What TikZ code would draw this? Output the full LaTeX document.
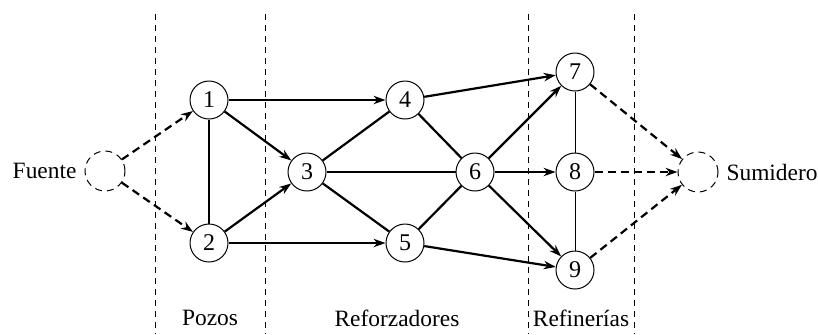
\documentclass[tikz,border=0pt]{standalone}
\usepackage{fontspec}
\setmainfont{Liberation Serif}
\usepackage{tikz}
\usetikzlibrary{arrows.meta}

\begin{document}
\begin{tikzpicture}[x=0.5pt,y=-0.5pt,>={Stealth[length=6pt,width=4.2pt]},
  nodo/.style={circle,draw,line width=0.5pt,minimum size=19pt,inner sep=0pt,font=\fontsize{12}{14}\selectfont},
  ficticio/.style={circle,draw,line width=0.5pt,dash pattern=on 3.5pt off 2.5pt,minimum size=20pt,inner sep=0pt},
  arco/.style={line width=1.1pt},
  falso/.style={line width=1.1pt,dash pattern=on 4pt off 2.5pt},
  etapa/.style={line width=0.4pt,dash pattern=on 3pt off 2.5pt},
  texto/.style={font=\fontsize{11.7}{14}\selectfont}]
\useasboundingbox (0,0) rectangle (818,334);
% separadores de etapas
\foreach \x in {155,265,528,634} \draw[etapa] (\x,14) -- (\x,334);
% nodos
\node[ficticio] (s) at (105,171) {};
\node[nodo] (n1) at (209,100) {1};
\node[nodo] (n2) at (209,243) {2};
\node[nodo] (n3) at (307,172) {3};
\node[nodo] (n4) at (405,100) {4};
\node[nodo] (n5) at (405,243) {5};
\node[nodo] (n6) at (475,172) {6};
\node[nodo] (n7) at (575,72) {7};
\node[nodo] (n8) at (575,172) {8};
\node[nodo] (n9) at (575,270) {9};
\node[ficticio] (t) at (698,172) {};
\node[texto,left=0.5pt] (fuente) at (s.west) {Fuente};
\node[texto,right=0.5pt] (sumidero) at (t.east) {Sumidero};
\node[texto] (pozos) at (210,318) {Pozos};
\node[texto] (reforz) at (397,318) {Reforzadores};
\node[texto] (refin) at (581,318) {Refinerías};
% arcos
\draw[falso,->] (s) -- (n1);
\draw[falso,->] (s) -- (n2);
\draw[arco] (n1) -- (n2);
\draw[arco,->] (n1) -- (n4);
\draw[arco,->] (n1) -- (n3);
\draw[arco,->] (n2) -- (n3);
\draw[arco,->] (n2) -- (n5);
\draw[arco] (n3) -- (n4);
\draw[arco] (n3) -- (n6);
\draw[arco] (n3) -- (n5);
\draw[arco] (n4) -- (n6);
\draw[arco] (n5) -- (n6);
\draw[arco,->] (n4) -- (n7);
\draw[arco,->] (n6) -- (n7);
\draw[arco,->] (n6) -- (n8);
\draw[arco,->] (n6) -- (n9);
\draw[arco,->] (n5) -- (n9);
\draw[line width=0.5pt] (n7) -- (n8);
\draw[line width=0.5pt] (n8) -- (n9);
\draw[falso,->] (n7) -- (t);
\draw[falso,->] (n8) -- (t);
\draw[falso,->] (n9) -- (t);
\end{tikzpicture}
\end{document}
